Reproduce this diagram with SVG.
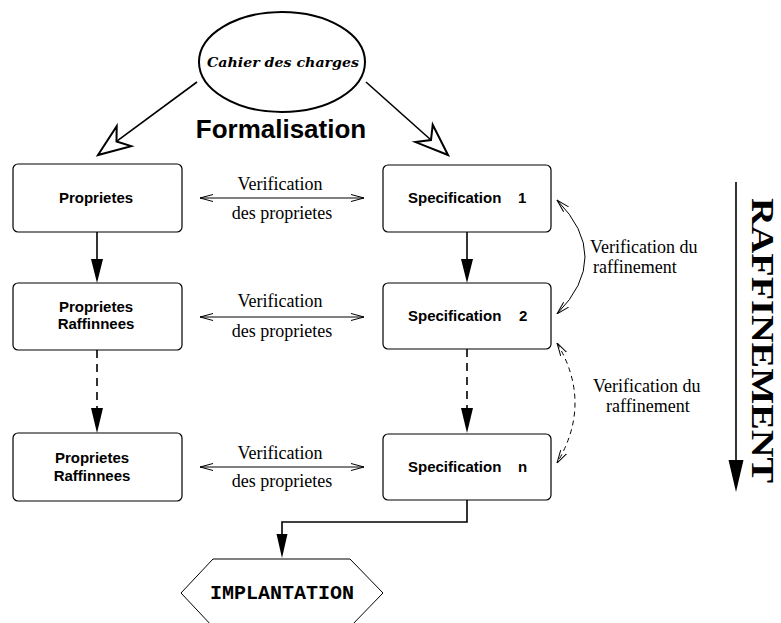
<svg xmlns="http://www.w3.org/2000/svg" width="781" height="623" viewBox="0 0 781 623">
<style>
.box{fill:#fff;stroke:#000;stroke-width:1.2}
.bt{font-family:"Liberation Sans",Arial,sans-serif;font-weight:bold;font-size:15px;fill:#000}
.st{font-family:"Liberation Serif","Times New Roman",serif;font-size:18px;fill:#000}
.ln{fill:none;stroke:#000;stroke-width:1.6}
.thin{fill:none;stroke:#000;stroke-width:1}
.dash{stroke-dasharray:8,6}
.dash2{stroke-dasharray:5,4}
.head{fill:#000;stroke:none}
.hollow{fill:#fff;stroke:#000;stroke-width:2;stroke-linejoin:miter}
</style>
<defs>
<marker id="open" viewBox="0 0 13 10" refX="13" refY="5" markerWidth="13" markerHeight="10" markerUnits="userSpaceOnUse" orient="auto-start-reverse">
<path d="M0,1.5 L13,5 L0,8.5" fill="none" stroke="#000" stroke-width="1" stroke-dasharray="none"/>
</marker>
</defs>

<g id="cahier">
<ellipse cx="282" cy="62" rx="83" ry="50" fill="#fff" stroke="#000" stroke-width="2"/>
<text x="283" y="67" text-anchor="middle" font-family="'DejaVu Serif','Liberation Serif',serif" font-weight="bold" font-style="italic" font-size="13" textLength="152" lengthAdjust="spacingAndGlyphs">Cahier des charges</text>
</g>

<g id="formalisation-label">
<text x="281" y="138" text-anchor="middle" font-family="'Liberation Sans',Arial,sans-serif" font-weight="bold" font-size="26">Formalisation</text>
</g>

<g id="prop1">
<rect class="box" x="13" y="164" width="169" height="68" rx="5"/>
<text class="bt" x="96" y="203" text-anchor="middle">Proprietes</text>
</g>
<g id="prop2">
<rect class="box" x="13" y="283" width="169" height="67" rx="5"/>
<text class="bt" x="96" y="312" text-anchor="middle">Proprietes</text>
<text class="bt" x="96" y="329" text-anchor="middle">Raffinnees</text>
</g>
<g id="prop3">
<rect class="box" x="13" y="433" width="169" height="68" rx="5"/>
<text class="bt" x="92" y="463" text-anchor="middle">Proprietes</text>
<text class="bt" x="92" y="481" text-anchor="middle">Raffinnees</text>
</g>

<g id="spec1">
<rect class="box" x="383" y="165" width="168" height="67" rx="5"/>
<text class="bt" y="203"><tspan x="408">Specification</tspan><tspan x="518">1</tspan></text>
</g>
<g id="spec2">
<rect class="box" x="383" y="283" width="168" height="66" rx="5"/>
<text class="bt" y="321"><tspan x="408">Specification</tspan><tspan x="519">2</tspan></text>
</g>
<g id="specn">
<rect class="box" x="383" y="434" width="168" height="66" rx="5"/>
<text class="bt" y="472"><tspan x="408">Specification</tspan><tspan x="518">n</tspan></text>
</g>

<g id="implantation">
<polygon points="213,559 350,559 383,593 350,627 213,627 181,593" fill="#fff" stroke="#000" stroke-width="1"/>
<text x="282" y="599" text-anchor="middle" font-family="'Liberation Mono','Courier New',monospace" font-weight="bold" font-size="20">IMPLANTATION</text>
</g>

<g id="raffinement">
<text transform="translate(752,198) rotate(90)" font-family="'Liberation Serif','Times New Roman',serif" font-weight="bold" font-size="32.5" textLength="285" lengthAdjust="spacingAndGlyphs">RAFFINEMENT</text>
</g>

<g id="connectors">
<path class="ln" stroke-width="2" d="M197,82 L116.5,141.4"/>
<polygon class="hollow" points="98,155 116.7,126.3 116.5,141.4 131.2,146.1"/>
<path class="ln" stroke-width="2" d="M366,82 L431,140"/>
<polygon class="hollow" points="448,155 432.7,124.8 431,140 415.5,142.1"/>

<path class="ln" d="M97,232 V259"/>
<polygon class="head" points="91,259 103,259 97,283"/>
<path class="ln dash" d="M97,350 V408"/>
<polygon class="head" points="91,408 103,408 97,433"/>

<path class="ln" d="M467,232 V259"/>
<polygon class="head" points="461,259 473,259 467,283"/>
<path class="ln dash" d="M467,349 V408"/>
<polygon class="head" points="461,408 473,408 467,433"/>

<path class="thin" d="M200,198 H364" marker-start="url(#open)" marker-end="url(#open)"/>
<path class="thin" d="M200,317 H364" marker-start="url(#open)" marker-end="url(#open)"/>
<path class="thin" d="M200,467 H364" marker-start="url(#open)" marker-end="url(#open)"/>

<path class="thin" d="M557,200 Q613,257 557,314" marker-start="url(#open)" marker-end="url(#open)"/>
<path class="thin dash2" d="M557,343 Q593,403 557,463" marker-start="url(#open)" marker-end="url(#open)"/>

<path class="ln" d="M467,500 V522 H282 V534"/>
<polygon class="head" points="276.5,534 287.5,534 282,558"/>

<path class="ln" stroke-width="2.5" d="M736,182 V461"/>
<polygon class="head" points="728.5,460 743.5,460 736,492"/>
</g>

<g id="labels">
<text class="st" x="280" y="190" text-anchor="middle">Verification</text>
<text class="st" x="282" y="219" text-anchor="middle">des proprietes</text>
<text class="st" x="280" y="307" text-anchor="middle">Verification</text>
<text class="st" x="282" y="337" text-anchor="middle">des proprietes</text>
<text class="st" x="280" y="459" text-anchor="middle">Verification</text>
<text class="st" x="282" y="487" text-anchor="middle">des proprietes</text>
<text class="st" x="590" y="253">Verification du</text>
<text class="st" x="593" y="273">raffinement</text>
<text class="st" x="593" y="392">Verification du</text>
<text class="st" x="606" y="412">raffinement</text>
</g>
</svg>
